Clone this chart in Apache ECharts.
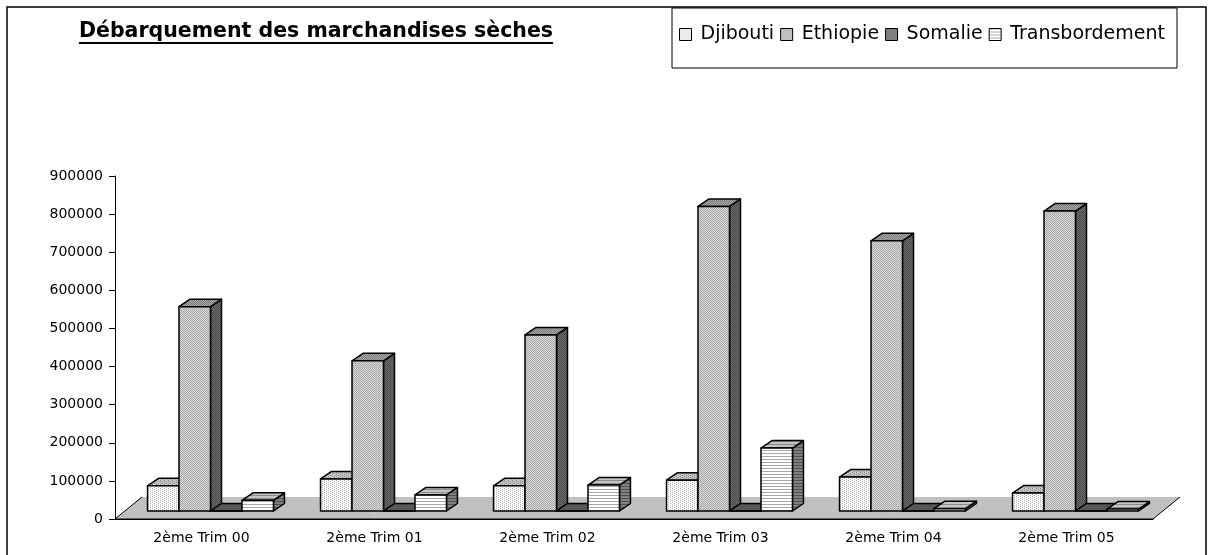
<!DOCTYPE html>
<html>
<head>
<meta charset="utf-8">
<script src="https://cdn.jsdelivr.net/npm/echarts@6/dist/echarts.min.js"></script>
<style>
  html, body { margin: 0; padding: 0; background: #fff; }
  #chart { width: 1210px; height: 555px; }
</style>
</head>
<body>
<div id="chart"></div>
<script>
// data
const categories = ['2ème Trim 00', '2ème Trim 01', '2ème Trim 02', '2ème Trim 03', '2ème Trim 04', '2ème Trim 05'];
const djibouti = [66000, 84000, 66000, 81000, 89000, 47000];
const ethiopie = [536000, 394000, 462000, 799000, 709000, 787000];
const somalie = [0, 0, 0, 0, 0, 0];
const transbordement = [28000, 42000, 68000, 165000, 6000, 5000];
const seriesNames = ['Djibouti', 'Ethiopie', 'Somalie', 'Transbordement'];
const yMin = 0, yMax = 900000, yStep = 100000;

// 3d look: offset of bar front from axis plane, and bar depth
const FRONT_DX = 9, FRONT_DY = -8;
const DEPTH_DX = 11, DEPTH_DY = -7.5;
const FLOOR_DX = 27, FLOOR_DY = -22;

// small canvas fills to mimic the excel hatchings
function pattern(w, h, bg, fg, pixels) {
  const c = document.createElement('canvas');
  c.width = w; c.height = h;
  const ctx = c.getContext('2d');
  ctx.fillStyle = bg;
  ctx.fillRect(0, 0, w, h);
  ctx.fillStyle = fg;
  pixels.forEach(p => ctx.fillRect(p[0], p[1], p[2] || 1, p[3] || 1));
  return { image: c, repeat: 'repeat' };
}
const dots = [[0, 0], [2, 1]];
const checker = [[0, 0], [1, 1]];
const lines = [[0, 0, 4, 1]];

const faces = [
  { // Djibouti
    front: pattern(4, 2, '#ffffff', '#b0b0b0', dots),
    top: pattern(4, 2, '#c4c4c4', '#8c8c8c', dots),
    side: pattern(4, 2, '#808080', '#5a5a5a', dots)
  },
  { // Ethiopie
    front: pattern(2, 2, '#d8d8d8', '#a8a8a8', checker),
    top: pattern(2, 2, '#a8a8a8', '#7c7c7c', checker),
    side: pattern(2, 2, '#6a6a6a', '#4c4c4c', checker)
  },
  { // Somalie
    front: '#808080',
    top: '#585858',
    side: '#404040'
  },
  { // Transbordement
    front: pattern(4, 3, '#ffffff', '#a8a8a8', lines),
    top: pattern(4, 3, '#c4c4c4', '#8a8a8a', lines),
    side: pattern(4, 3, '#808080', '#505050', lines)
  }
];

function renderBar(params, api) {
  const f = faces[params.seriesIndex];
  const i = api.value(0);
  const base = api.coord([i, 0]);
  const top = api.coord([i, api.value(1)]);
  const bw = api.size([1, 0])[0] * 0.182;
  const x0 = base[0] - 2 * bw + params.seriesIndex * bw + FRONT_DX;
  const x1 = x0 + bw;
  const yb = base[1] + FRONT_DY;
  const yt = top[1] + FRONT_DY;
  const edge = { stroke: '#000', lineWidth: 1.5, lineJoin: 'round' };
  return {
    type: 'group',
    children: [
      { type: 'polygon', shape: { points: [[x1, yt], [x1 + DEPTH_DX, yt + DEPTH_DY], [x1 + DEPTH_DX, yb + DEPTH_DY], [x1, yb]] },
        style: Object.assign({ fill: f.side }, edge) },
      { type: 'polygon', shape: { points: [[x0, yt], [x0 + DEPTH_DX, yt + DEPTH_DY], [x1 + DEPTH_DX, yt + DEPTH_DY], [x1, yt]] },
        style: Object.assign({ fill: f.top }, edge) },
      { type: 'rect', shape: { x: x0, y: yt, width: bw, height: yb - yt },
        style: Object.assign({ fill: f.front }, edge) }
    ]
  };
}

function renderFloor(params) {
  const cs = params.coordSys;
  const fl = [cs.x, cs.y + cs.height];
  const fr = [cs.x + cs.width, cs.y + cs.height];
  const br = [fr[0] + FLOOR_DX, fr[1] + FLOOR_DY];
  const bl = [fl[0] + FLOOR_DX, fl[1] + FLOOR_DY];
  return {
    type: 'group',
    children: [
      { type: 'polygon', shape: { points: [fl, fr, br, bl] }, style: { fill: '#c0c0c0' } },
      { type: 'polyline', shape: { points: [bl, fl, fr, br] }, style: { stroke: '#000', lineWidth: 1, fill: null } }
    ]
  };
}

const values = [djibouti, ethiopie, somalie, transbordement];
const barSeries = seriesNames.map((name, s) => ({
  name: name,
  type: 'custom',
  renderItem: renderBar,
  encode: { x: 0, y: 1 },
  itemStyle: { color: faces[s].front, borderColor: '#000', borderWidth: 1 },
  data: values[s].map((v, i) => [i, v]),
  z: 3
}));

const chart = echarts.init(document.getElementById('chart'));
chart.setOption({
  animation: false,
  backgroundColor: '#fff',
  title: {
    text: 'Débarquement des marchandises sèches',
    left: 79, top: 21, padding: 0,
    textStyle: { fontFamily: 'DejaVu Sans', fontWeight: 'bold', fontSize: 20.5, color: '#000' }
  },
  legend: {
    data: seriesNames,
    left: 679, top: 25, padding: 0,
    icon: 'rect', itemWidth: 12, itemHeight: 12, itemGap: 6,
    itemStyle: { borderColor: '#000', borderWidth: 1 },
    textStyle: { fontFamily: 'DejaVu Sans', fontSize: 19, color: '#000', padding: [0, 0, 0, 4] }
  },
  graphic: [
    { type: 'rect', shape: { x: 7, y: 7, width: 1199, height: 570 }, style: { fill: null, stroke: '#000', lineWidth: 1.5 }, silent: true },
    { type: 'rect', shape: { x: 672, y: 8, width: 505, height: 60 }, style: { fill: null, stroke: '#000', lineWidth: 1 }, silent: true },
    { type: 'line', shape: { x1: 79, y1: 43, x2: 553, y2: 43 }, style: { stroke: '#000', lineWidth: 2 }, silent: true }
  ],
  grid: { left: 115, right: 57, top: 176, bottom: 36 },
  xAxis: {
    type: 'category',
    data: categories,
    axisLine: { lineStyle: { color: '#000', width: 1 } },
    axisTick: { length: 7, lineStyle: { color: '#000' } },
    axisLabel: { color: '#000', fontFamily: 'DejaVu Sans', fontSize: 14, margin: 12 }
  },
  yAxis: {
    type: 'value',
    min: yMin, max: yMax, interval: yStep,
    axisLine: { show: true, lineStyle: { color: '#000', width: 1 } },
    axisTick: { show: true, length: 6, lineStyle: { color: '#000' } },
    splitLine: { show: false },
    axisLabel: { color: '#000', fontFamily: 'DejaVu Sans', fontSize: 14, margin: 12, formatter: v => String(v) }
  },
  series: barSeries.concat([{
    name: 'floor',
    type: 'custom',
    renderItem: renderFloor,
    data: [[0, 0]],
    encode: { x: 0, y: 1 },
    silent: true,
    z: 1
  }])
});
</script>
</body>
</html>
